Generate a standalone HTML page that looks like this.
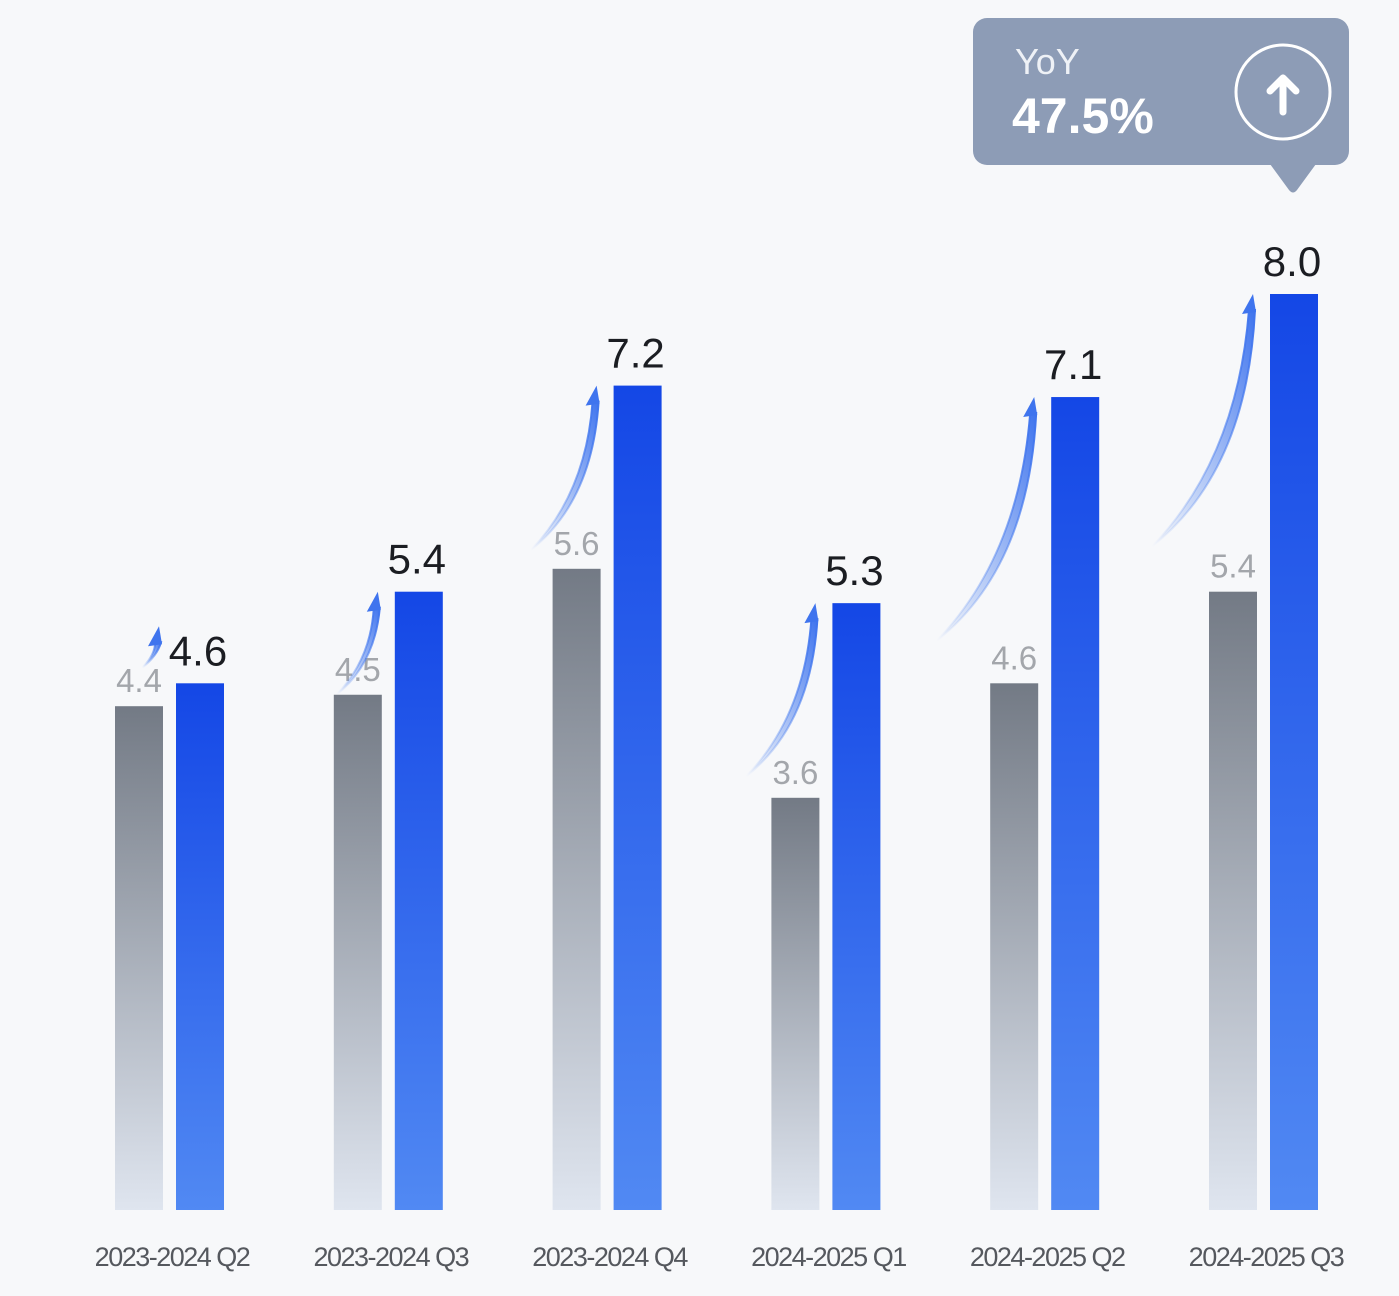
<!DOCTYPE html>
<html><head><meta charset="utf-8"><style>
html,body{margin:0;padding:0;background:#f7f8fa;}
svg{display:block;font-family:"Liberation Sans",sans-serif;}
</style></head><body>
<svg id="chart" width="1399" height="1296" viewBox="0 0 1399 1296">
<defs>
<linearGradient id="gGray" x1="0" y1="0" x2="0" y2="1"><stop offset="0" stop-color="#737a85"/><stop offset="1" stop-color="#dfe5ef"/></linearGradient>
<linearGradient id="gBlue" x1="0" y1="0" x2="0" y2="1"><stop offset="0" stop-color="#1447e6"/><stop offset="1" stop-color="#5189f3"/></linearGradient>
<linearGradient id="gArrow" x1="0" y1="1" x2="1" y2="0"><stop offset="0" stop-color="#5b8cf0" stop-opacity="0"/><stop offset="1" stop-color="#3f74ee"/></linearGradient>
</defs>
<g>
<rect x="973" y="18" width="376" height="147" rx="14" fill="#8d9cb6"/>
<path d="M1270 164 L1316 164 L1297 190 Q1293 195 1289 190 Z" fill="#8d9cb6"/>
<text x="1015" y="74" font-size="36" fill="#eef1f6">YoY</text>
<text x="1012" y="133" font-size="50" font-weight="bold" fill="#fff">47.5%</text>
<circle cx="1283" cy="92" r="47" fill="none" stroke="#fff" stroke-width="3"/>
<path d="M1283 112 L1283 78 M1270 91 L1283 78 L1296 91" stroke="#fff" stroke-width="7" fill="none" stroke-linecap="round" stroke-linejoin="round"/>
</g>
<g id="bars"></g>
</svg>
<script>
const categories=["2023-2024 Q2","2023-2024 Q3","2023-2024 Q4","2024-2025 Q1","2024-2025 Q2","2024-2025 Q3"];
const prevValues=[4.4,4.5,5.6,3.6,4.6,5.4];
const currValues=[4.6,5.4,7.2,5.3,7.1,8.0];
const NS="http://www.w3.org/2000/svg";
const base=1210, unit=114.5;
const y=v=>base-v*unit;
const groupX=i=>115+i*218.8;
const g=document.getElementById('bars');
function mk(t,a){const e=document.createElementNS(NS,t);for(const k in a)e.setAttribute(k,a[k]);g.appendChild(e);return e;}
categories.forEach((c,i)=>{
  const gx=groupX(i), bx=gx+61;
  const r1=mk('rect',{x:gx,y:y(prevValues[i]),width:48,height:base-y(prevValues[i]),fill:'url(#gGray)'});
  
  
  const r2=mk('rect',{x:bx,y:y(currValues[i]),width:48,height:base-y(currValues[i]),fill:'url(#gBlue)'});
  
  
  const t1=mk('text',{x:gx+24,y:y(prevValues[i])-14,'font-size':33,fill:'#a3a6ab','text-anchor':'middle'});
  t1.textContent=prevValues[i].toFixed(1);
  
  
  const t2=mk('text',{x:bx+22,y:y(currValues[i])-18,'font-size':42,fill:'#1b1d22','text-anchor':'middle'});
  t2.textContent=currValues[i].toFixed(1);
  
  
  // growth arrow
  const diff=currValues[i]-prevValues[i];
  const tx=bx-18, ty=Math.min(y(currValues[i])+2, y(prevValues[i])-78);
  const h=Math.max(diff*88+22,38), w=h*0.4;
  const sx=tx-w, sy=ty+h;
  const p=mk('path',{d:`M${sx} ${sy} Q${tx-w*0.15} ${sy-h*0.35} ${tx-3} ${ty+14} L${tx+3} ${ty+14} Q${tx-w*0.05} ${sy-h*0.3} ${sx} ${sy} Z`,fill:'url(#gArrow)',stroke:'url(#gArrow)','stroke-width':2});
  
  
  const hd=mk('path',{d:`M${tx+1} ${ty-2} L${tx-10} ${ty+18} L${tx+4} ${ty+16} Z`,fill:'#3f74ee'});
  
  
  const lb=mk('text',{x:gx+57,y:1266,'font-size':27,fill:'#55585e','text-anchor':'middle','letter-spacing':'-1.5'});
  lb.textContent=c;
  
  
});
</script>
</body></html>
